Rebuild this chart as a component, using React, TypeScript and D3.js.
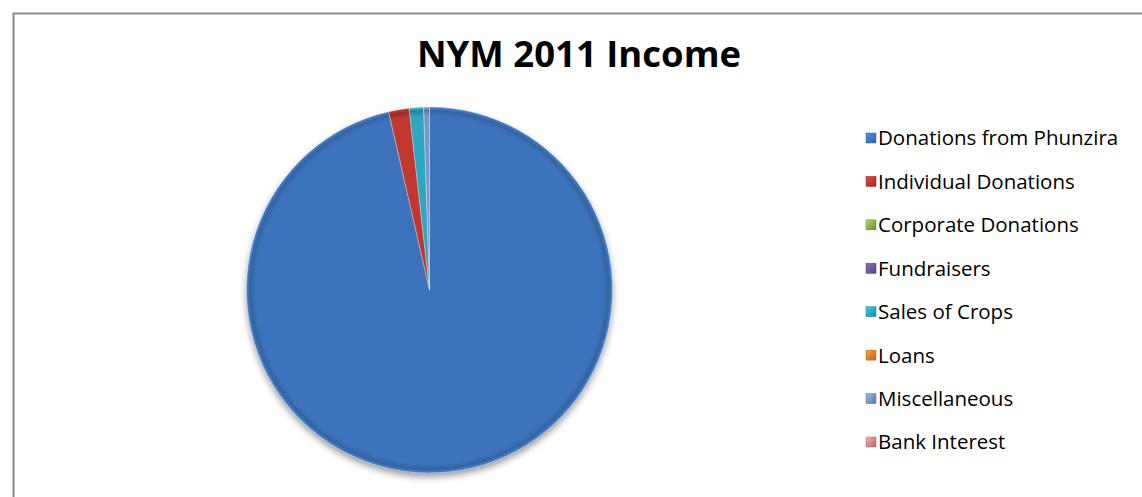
import React from "react";
import * as d3 from "d3";

const categories = [
  "Donations from Phunzira",
  "Individual Donations",
  "Corporate Donations",
  "Fundraisers",
  "Sales of Crops",
  "Loans",
  "Miscellaneous",
  "Bank Interest",
];
const values = [96.4, 1.8, 0, 0, 1.27, 0, 0.52, 0];
const colors = ["#3d73bc", "#c0392f", "#8db04a", "#7358a0", "#2fa7c2", "#e9832c", "#7f97c3", "#d58b8a"];
const darkColors = ["#34649f", "#962a24", "#6d8a36", "#56417c", "#23839a", "#b9651f", "#5f7399", "#a86b6a"];
const title = "NYM 2011 Income";

const W = 1142;
const H = 497;

export default function App() {
  const cx = 429.5;
  const cy = 290;
  const r = 183;
  const pie = d3.pie<number>().value((d) => d).sort(null);
  const arcs = pie(values);
  const arc = d3.arc<d3.PieArcDatum<number>>().innerRadius(0).outerRadius(r);
  const legendY = d3.scalePoint<string>().domain(categories).range([138, 442]);

  return (
    <svg width={W} height={H} style={{ position: "absolute", left: 0, top: 0 }}>
      <defs>
        <filter id="shadow" x="-20%" y="-20%" width="140%" height="150%">
          <feGaussianBlur in="SourceAlpha" stdDeviation="3.5" />
          <feOffset dx="0" dy="4" result="b" />
          <feComponentTransfer>
            <feFuncA type="linear" slope="0.4" />
          </feComponentTransfer>
          <feMerge>
            <feMergeNode />
            <feMergeNode in="SourceGraphic" />
          </feMerge>
        </filter>
        {colors.map((c, i) => (
          <radialGradient key={i} id={`g${i}`} cx={0} cy={0} r={r} gradientUnits="userSpaceOnUse">
            <stop offset="0%" stopColor={c} />
            <stop offset="95%" stopColor={c} />
            <stop offset="98%" stopColor={darkColors[i]} />
            <stop offset="100%" stopColor={d3.color(c)!.brighter(0.4).toString()} />
          </radialGradient>
        ))}
        {colors.map((c, i) => (
          <linearGradient key={i} id={`l${i}`} x1="0" y1="0" x2="1" y2="1">
            <stop offset="0%" stopColor={d3.color(c)!.brighter(0.6).toString()} />
            <stop offset="100%" stopColor={darkColors[i]} />
          </linearGradient>
        ))}
      </defs>
      <rect x={0} y={0} width={W} height={H} fill="#ffffff" />
      <rect x={13.5} y={13.5} width={W + 10} height={H + 10} fill="none" stroke="#8c8c8c" strokeWidth={2} />
      <text
        x={579}
        y={67}
        textAnchor="middle"
        fontFamily="'Open Sans', sans-serif"
        fontWeight="bold"
        fontSize={36.5}
        fill="#000"
      >
        {title}
      </text>
      <g transform={`translate(${cx},${cy})`} filter="url(#shadow)">
        {arcs.map((a, i) =>
          a.endAngle - a.startAngle > 0 ? <path key={i} d={arc(a) || ""} fill={`url(#g${i})`} /> : null
        )}
      </g>
      <g transform={`translate(${cx},${cy})`}>
        {arcs.map((a, i) =>
          a.endAngle - a.startAngle > 0 ? (
            <path key={i} d={arc(a) || ""} fill="none" stroke="rgba(255,255,255,0.3)" strokeWidth={0.8} />
          ) : null
        )}
      </g>
      <g>
        {categories.map((c, i) => (
          <g key={c} transform={`translate(866,${legendY(c)})`}>
            <rect x={0} y={-5} width={10} height={10} fill={`url(#l${i})`} stroke={darkColors[i]} strokeWidth={0.5} />
            <text
              x={12}
              y={0}
              dy="0.36em"
              fontFamily="'Open Sans', sans-serif"
              fontSize={20.5}
              fill="#000"
            >
              {c}
            </text>
          </g>
        ))}
      </g>
    </svg>
  );
}
